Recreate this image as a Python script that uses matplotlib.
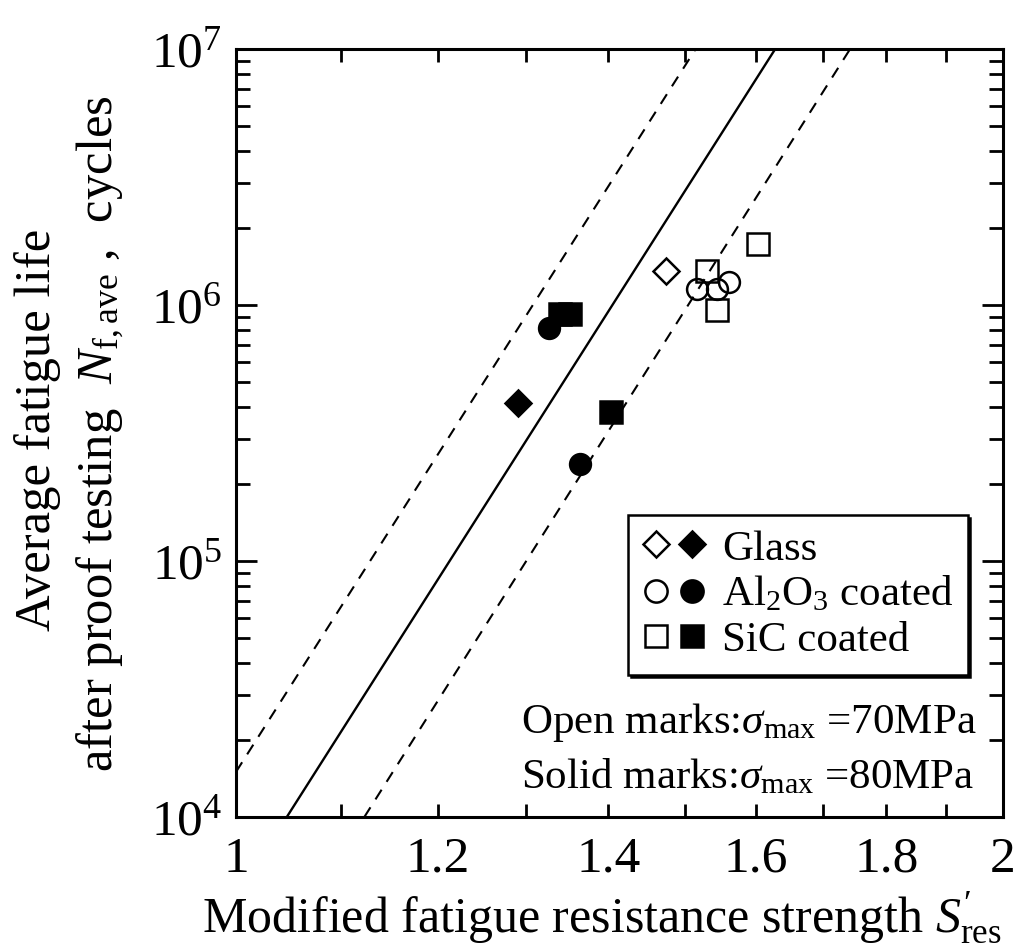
import matplotlib
matplotlib.use("Agg")
import matplotlib.pyplot as plt
import numpy as np
from matplotlib.ticker import FixedLocator, NullLocator, LogLocator, FuncFormatter, NullFormatter
from matplotlib.legend_handler import HandlerTuple

plt.rcParams['font.family'] = ['Liberation Serif', 'DejaVu Serif']
plt.rcParams['mathtext.fontset'] = 'custom'
plt.rcParams['mathtext.rm'] = 'Liberation Serif'
plt.rcParams['mathtext.it'] = 'Liberation Serif:italic'
plt.rcParams['mathtext.bf'] = 'Liberation Serif:bold'

# Datos: resistencia modificada S'res y vida media N_f,ave
glass_open_S = [1.475]
glass_open_N = [1.36e6]
glass_solid_S = [1.290]
glass_solid_N = [4.13e5]

al_open_S = [1.517, 1.545, 1.561]
al_open_N = [1.15e6, 1.15e6, 1.23e6]
al_solid_S = [1.327, 1.365]
al_solid_N = [8.15e5, 2.39e5]

sic_open_S = [1.603, 1.531, 1.545]
sic_open_N = [1.73e6, 1.36e6, 9.56e5]
sic_solid_S = [1.340, 1.352, 1.403]
sic_solid_N = [9.26e5, 9.26e5, 3.83e5]

# Rectas de ajuste (extremos)
fit_S = [1.047, 1.628]
fit_N = [1e4, 1e7]
low_S = [1.000, 1.515]
low_N = [1.5e4, 1e7]
high_S = [1.123, 1.742]
high_N = [1e4, 1e7]

x_ticks = [1.0, 1.1, 1.2, 1.3, 1.4, 1.5, 1.6, 1.7, 1.8, 1.9, 2.0]
x_labels = ["1", "", "1.2", "", "1.4", "", "1.6", "", "1.8", "", "2"]

fig = plt.figure(figsize=(10.35, 9.52), dpi=100)
ax = fig.add_axes([0.228, 0.1418, 0.741, 0.8067])

ax.plot(fit_S, fit_N, color='k', lw=1.7)
ax.plot(low_S, low_N, color='k', lw=1.5, ls=(0, (5.5, 4.5)))
ax.plot(high_S, high_N, color='k', lw=1.5, ls=(0, (5.5, 4.5)))

mew = 1.8
ax.plot(glass_open_S, glass_open_N, 'D', ms=13.5, mfc='white', mec='k', mew=mew)
ax.plot(glass_solid_S, glass_solid_N, 'D', ms=13.5, mfc='k', mec='k', mew=mew)
ax.plot(al_open_S, al_open_N, 'o', ms=15, mfc='none', mec='k', mew=mew)
ax.plot(al_solid_S, al_solid_N, 'o', ms=15, mfc='k', mec='k', mew=mew)
ax.plot(sic_open_S, sic_open_N, 's', ms=16.5, mfc='none', mec='k', mew=mew)
ax.plot(sic_solid_S, sic_solid_N, 's', ms=16.5, mfc='k', mec='k', mew=mew)

ax.set_xscale('log')
ax.set_yscale('log')
ax.set_xlim(1, 2)
ax.set_ylim(1e4, 1e7)

ax.xaxis.set_major_locator(FixedLocator(x_ticks))
ax.xaxis.set_minor_locator(NullLocator())
ax.set_xticklabels(x_labels)
ax.yaxis.set_major_locator(LogLocator(base=10, numticks=10))
ax.yaxis.set_minor_locator(LogLocator(base=10, subs=np.arange(2, 10), numticks=20))
ax.yaxis.set_major_formatter(FuncFormatter(lambda v, p: r'$10^{%d}$' % round(np.log10(v))))
ax.yaxis.set_minor_formatter(NullFormatter())

ax.tick_params(axis='both', which='both', direction='in', top=True, right=True,
               width=2, labelsize=37)
ax.tick_params(axis='x', which='major', length=9.5, pad=14)
ax.tick_params(axis='y', which='major', length=15, pad=10)
ax.tick_params(axis='y', which='minor', length=10)
for s in ax.spines.values():
    s.set_linewidth(2.2)

ax.set_xlabel(r"Modified fatigue resistance strength $S^{\prime}_{\mathrm{res}}$", fontsize=36)
ax.xaxis.set_label_coords(0.477, -0.095)
fig.text(0.036, 0.548, "Average fatigue life", rotation=90, fontsize=36.5, ha='center', va='center')
fig.text(0.097, 0.545, r"after proof testing  $N_{\mathrm{f,ave}}$ ,  cycles", rotation=90,
         fontsize=36.5, ha='center', va='center')

# Leyenda
h = {}
for key, m, ms in [('g', 'D', 13), ('a', 'o', 16), ('s', 's', 16.5)]:
    o, = ax.plot([], [], m, ms=ms, mfc='white', mec='k', mew=1.8)
    f, = ax.plot([], [], m, ms=ms, mfc='k', mec='k', mew=1.8)
    h[key] = (o, f)
leg = ax.legend([h['g'], h['a'], h['s']], ["Glass", r"Al$_2$O$_3$ coated", "SiC coated"],
                handler_map={tuple: HandlerTuple(ndivide=None, pad=0.2)},
                loc='upper right', bbox_to_anchor=(0.954, 0.393), borderaxespad=0,
                fontsize=31, frameon=True, fancybox=False, edgecolor='k',
                shadow={'color': 'k', 'alpha': 1}, handlelength=1.45, handletextpad=0.4,
                labelspacing=0.15, borderpad=0.33, framealpha=1)
leg.get_frame().set_linewidth(1.8)

ax.text(0.371, 0.109, r"Open marks:$\sigma_{\mathrm{max}}$ =70MPa", transform=ax.transAxes, fontsize=31,
        ha='left', va='baseline')
ax.text(0.371, 0.038, r"Solid marks:$\sigma_{\mathrm{max}}$ =80MPa", transform=ax.transAxes, fontsize=31,
        ha='left', va='baseline')

plt.savefig("out.png", dpi=100)
